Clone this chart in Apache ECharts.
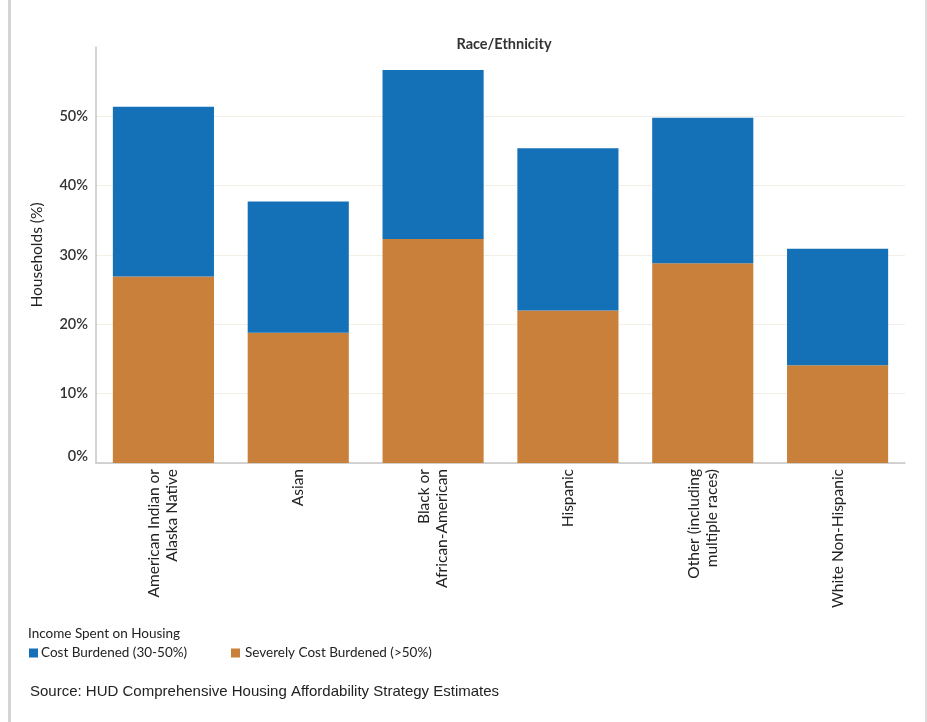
<!DOCTYPE html>
<html>
<head>
<meta charset="utf-8">
<script src="https://cdn.jsdelivr.net/npm/echarts@6/dist/echarts.min.js"></script>
<style>
  html, body { margin: 0; padding: 0; background: #ffffff; }
  #chart { width: 927px; height: 722px; }
</style>
</head>
<body>
<div id="chart"></div>
<script>
const categories = [
  "American Indian or\nAlaska Native",
  "Asian",
  "Black or\nAfrican-American",
  "Hispanic",
  "Other (including\nmultiple races)",
  "White Non-Hispanic"
];
const severelyCostBurdened = [26.9, 18.8, 32.3, 22.0, 28.8, 14.1];
const costBurdened = [24.5, 18.9, 24.4, 23.4, 21.0, 16.8];
const yTicks = [0, 10, 20, 30, 40, 50, 60];
const seriesNames = ["Cost Burdened (30-50%)", "Severely Cost Burdened (>50%)"];

const BLUE = "#1571b7";
const ORANGE = "#c9803a";
const FONT = "Lato, 'Noto Sans', sans-serif";

const chart = echarts.init(document.getElementById("chart"), null, { renderer: "canvas" });

chart.setOption({
  backgroundColor: "#ffffff",
  animation: false,
  title: [
    {
      text: "Race/Ethnicity",
      left: 499, top: 32, textAlign: "center",
      textStyle: { fontFamily: FONT, fontSize: 14.5, fontWeight: "bold", color: "#333333" }
    },
    {
      text: "Income Spent on Housing",
      left: 28, top: 627, padding: 0,
      textStyle: { fontFamily: FONT, fontSize: 13.5, fontWeight: "normal", color: "#222222" }
    },
    {
      text: "Source: HUD Comprehensive Housing Affordability Strategy Estimates",
      left: 30, top: 684, padding: 0,
      textStyle: { fontFamily: "'Liberation Sans', Arial, sans-serif", fontSize: 15, fontWeight: "normal", color: "#222222" }
    }
  ],
  legend: [
    {
      data: [seriesNames[0]],
      left: 29, top: 646, padding: 0,
      icon: "rect", itemWidth: 9, itemHeight: 9, itemGap: 0,
      selectedMode: false,
      textStyle: { fontFamily: FONT, fontSize: 13.5, color: "#222222", padding: [0, 0, 0, -2] }
    },
    {
      data: [seriesNames[1]],
      left: 231, top: 646, padding: 0,
      icon: "rect", itemWidth: 9, itemHeight: 9, itemGap: 0,
      selectedMode: false,
      textStyle: { fontFamily: FONT, fontSize: 13.5, color: "#222222", padding: [0, 0, 0, 0] }
    }
  ],
  graphic: [
    { type: "rect", shape: { x: 8, y: 0, width: 3, height: 722 }, style: { fill: "#d4d4d4" }, silent: true },
    { type: "rect", shape: { x: 925, y: 0, width: 2, height: 722 }, style: { fill: "#dcdcdc" }, silent: true }
  ],
  grid: { left: 96, right: 22, top: 47, bottom: 259, containLabel: false },
  xAxis: {
    type: "category",
    data: categories,
    axisLine: { show: true, lineStyle: { color: "#c6c6c6", width: 1.5 } },
    axisTick: { show: false },
    axisLabel: {
      rotate: 90, interval: 0, margin: 6,
      fontFamily: FONT, fontSize: 15.5, color: "#222222", lineHeight: 18
    },
    splitLine: { show: false }
  },
  yAxis: {
    type: "value",
    min: yTicks[0], max: yTicks[yTicks.length - 1], interval: 10,
    name: "Households (%)",
    nameLocation: "middle", nameGap: 51, nameRotate: 90,
    nameTextStyle: { fontFamily: FONT, fontSize: 15.5, color: "#222222" },
    axisLine: { show: true, lineStyle: { color: "#c6c6c6", width: 1.5 } },
    axisTick: { show: false },
    axisLabel: {
      margin: 8, showMaxLabel: false,
      fontFamily: FONT, fontSize: 14.5, fontWeight: 600, color: "#333333",
      formatter: function (v) { return v === 0 ? "{z|0%}" : v + "%"; },
      rich: { z: { fontFamily: FONT, fontSize: 14.5, fontWeight: 600, color: "#333333", padding: [0, 0, 14, 0] } }
    },
    splitLine: { show: true, showMaxLine: false, lineStyle: { color: "#f3efe7", width: 1 } }
  },
  series: [
    {
      name: seriesNames[1], type: "bar", stack: "total",
      data: severelyCostBurdened, barCategoryGap: "25%",
      itemStyle: { color: ORANGE }
    },
    {
      name: seriesNames[0], type: "bar", stack: "total",
      data: costBurdened, barCategoryGap: "25%",
      itemStyle: { color: BLUE }
    }
  ]
});
</script>
</body>
</html>
